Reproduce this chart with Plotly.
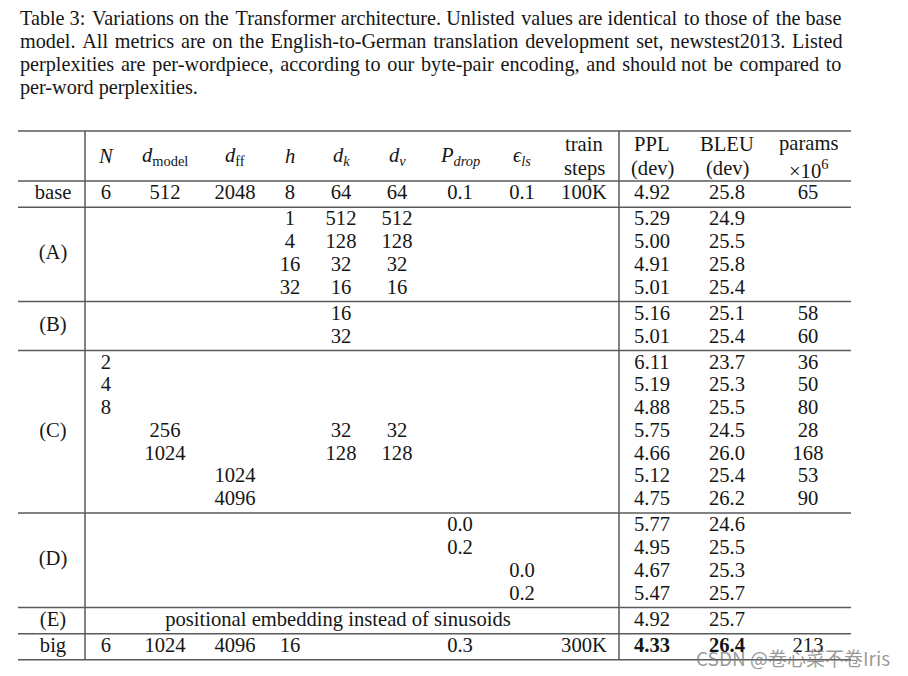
import plotly.graph_objects as go

# ---------------- data ----------------
caption_lines = [
    "Table 3: Variations on the Transformer architecture. Unlisted values are identical to those of the base",
    "model. All metrics are on the English-to-German translation development set, newstest2013. Listed",
    "perplexities are per-wordpiece, according to our byte-pair encoding, and should not be compared to",
    "per-word perplexities.",
]

group_labels = ["base", "(A)", "(B)", "(C)", "(D)", "(E)", "big"]
group_sizes = [1, 4, 2, 7, 4, 1, 1]

headers = [
    [""],
    ["<i>N</i>"],
    ["<i>d</i><sub>model</sub>"],
    ["<i>d</i><sub>ff</sub>"],
    ["<i>h</i>"],
    ["<i>d</i><sub><i>k</i></sub>"],
    ["<i>d</i><sub><i>v</i></sub>"],
    ["<i>P</i><sub><i>drop</i></sub>"],
    ["<i>ϵ</i><sub><i>ls</i></sub>"],
    ["train", "steps"],
    ["PPL", "(dev)"],
    ["BLEU", "(dev)"],
    ["params", "×10<sup>6</sup>"],
]

# rows: base | A x4 | B x2 | C x7 | D x4 | E | big
col_N      = ["6", "", "", "", "", "", "", "2", "4", "8", "", "", "", "", "", "", "", "", "", "6"]
col_dmodel = ["512", "", "", "", "", "", "", "", "", "", "256", "1024", "", "", "", "", "", "", "", "1024"]
col_dff    = ["2048", "", "", "", "", "", "", "", "", "", "", "", "1024", "4096", "", "", "", "", "", "4096"]
col_h      = ["8", "1", "4", "16", "32", "", "", "", "", "", "", "", "", "", "", "", "", "", "", "16"]
col_dk     = ["64", "512", "128", "32", "16", "16", "32", "", "", "", "32", "128", "", "", "", "", "", "", "", ""]
col_dv     = ["64", "512", "128", "32", "16", "", "", "", "", "", "32", "128", "", "", "", "", "", "", "", ""]
col_pdrop  = ["0.1", "", "", "", "", "", "", "", "", "", "", "", "", "", "0.0", "0.2", "", "", "", "0.3"]
col_eps    = ["0.1", "", "", "", "", "", "", "", "", "", "", "", "", "", "", "", "0.0", "0.2", "", ""]
col_steps  = ["100K", "", "", "", "", "", "", "", "", "", "", "", "", "", "", "", "", "", "", "300K"]
col_ppl    = ["4.92", "5.29", "5.00", "4.91", "5.01", "5.16", "5.01", "6.11", "5.19", "4.88",
              "5.75", "4.66", "5.12", "4.75", "5.77", "4.95", "4.67", "5.47", "4.92", "4.33"]
col_bleu   = ["25.8", "24.9", "25.5", "25.8", "25.4", "25.1", "25.4", "23.7", "25.3", "25.5",
              "24.5", "26.0", "25.4", "26.2", "24.6", "25.5", "25.3", "25.7", "25.7", "26.4"]
col_params = ["65", "", "", "", "", "58", "60", "36", "50", "80", "28", "168", "53", "90",
              "", "", "", "", "", "213"]

e_note = "positional embedding instead of sinusoids"
e_row = 18
bold_row = 19           # "big" model: best PPL / BLEU in bold
bold_cols = [10, 11]

watermark = "CSDN @卷心菜不卷Iris"

columns = [None, col_N, col_dmodel, col_dff, col_h, col_dk, col_dv,
           col_pdrop, col_eps, col_steps, col_ppl, col_bleu, col_params]

# ---------------- layout ----------------
# the page places the figure 8px from the top-left corner, so the figure is
# 8px smaller and its axes start at 8 to keep window pixel coordinates
OFF = 8
W, H = 908, 676
SERIF = "Liberation Serif, Times New Roman, Times, serif"
TXT = "#161616"
LINE = "#5a5a5a"
FS = 20.6

left, right = 18, 851
col_x = [53, 106, 165, 235, 290, 341, 397, 460, 522, 584, 652, 727, 808]
vline_x = [85, 619]
top_rule = 131
header_h = 50
row_h = 22.75
pad = 3.4
cap_x, cap_y0, cap_dy, cap_fs = 18, 18, 23.2, 20.2
cap_extra = [5, 12, 11, 0]   # hair spaces added to emulate justified lines


def justify(text, k):
    parts = text.split(" ")
    n = len(parts) - 1
    if k <= 0 or n <= 0:
        return text
    picks = {round((j + 0.5) * n / k - 0.5) for j in range(k)}
    out = parts[0]
    for i in range(n):
        out += " " + ("\u200a" if i in picks else "") + parts[i + 1]
    return out


# row positions
y = top_rule + header_h
rules = [top_rule, y]
row_y, group_y = [], []
for n in group_sizes:
    ys = [y + pad / 2 + (i + 0.5) * row_h for i in range(n)]
    row_y += ys
    group_y.append(sum(ys) / len(ys))
    y += n * row_h + pad
    rules.append(y)
bottom_rule = rules[-1]

fig = go.Figure()

# table cells as a text trace
xs, ys, ts = [], [], []
for c, col in enumerate(columns):
    if col is None:
        continue
    for r, v in enumerate(col):
        if v == "":
            continue
        xs.append(col_x[c])
        ys.append(row_y[r])
        ts.append(f"<b>{v}</b>" if (r == bold_row and c in bold_cols) else v)
for g, lab in enumerate(group_labels):
    xs.append(col_x[0])
    ys.append(group_y[g])
    ts.append(lab)
xs.append(338)
ys.append(row_y[e_row])
ts.append(e_note)

fig.add_trace(go.Scatter(
    x=xs, y=ys, text=ts, mode="text", textposition="middle center",
    textfont=dict(family=SERIF, size=FS, color=TXT),
    hoverinfo="skip", showlegend=False,
))

# headers
hc = top_rule + header_h / 2
for c, lines in enumerate(headers):
    n = len(lines)
    for i, t in enumerate(lines):
        if not t:
            continue
        yy = hc + (i - (n - 1) / 2) * 25
        fig.add_annotation(x=col_x[c], y=yy, text=t, showarrow=False,
                           xanchor="center", yanchor="middle",
                           font=dict(family=SERIF, size=FS, color=TXT))

# caption
for i, t in enumerate(caption_lines):
    fig.add_annotation(x=cap_x, y=cap_y0 + i * cap_dy, text=justify(t, cap_extra[i]),
                       showarrow=False, xanchor="left", yanchor="middle",
                       font=dict(family=SERIF, size=cap_fs, color=TXT))

# rules
for ry in rules:
    fig.add_shape(type="line", x0=left, x1=right, y0=ry, y1=ry,
                  line=dict(color=LINE, width=1.5))
for vx in vline_x:
    fig.add_shape(type="line", x0=vx, x1=vx, y0=top_rule, y1=bottom_rule,
                  line=dict(color=LINE, width=1.5))

# watermark
fig.add_annotation(x=793, y=657, text=watermark, showarrow=False,
                   xanchor="center", yanchor="middle",
                   font=dict(family="Noto Sans CJK SC, Noto Sans, sans-serif",
                             size=19, color="rgba(120,120,120,0.75)"))

fig.update_layout(
    width=W - OFF, height=H - OFF, margin=dict(l=0, r=0, t=0, b=0),
    paper_bgcolor="white", plot_bgcolor="white",
    xaxis=dict(range=[OFF, W], visible=False, fixedrange=True),
    yaxis=dict(range=[H, OFF], visible=False, fixedrange=True),
)

fig.write_html("out.html")
